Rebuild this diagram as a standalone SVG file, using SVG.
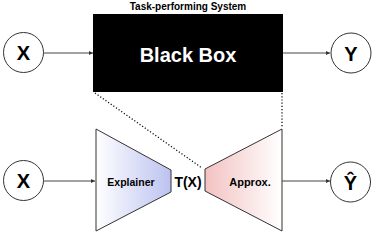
<svg xmlns="http://www.w3.org/2000/svg" width="374" height="234" viewBox="0 0 374 234">
<defs>
<linearGradient id="gBlue" x1="0" y1="0" x2="1" y2="0">
<stop offset="0" stop-color="#ffffff"/>
<stop offset="1" stop-color="#bcc2f0"/>
</linearGradient>
<linearGradient id="gRed" x1="0" y1="0" x2="1" y2="0">
<stop offset="0" stop-color="#f3c2c2"/>
<stop offset="1" stop-color="#ffffff"/>
</linearGradient>
<marker id="ah" viewBox="0 0 6 6" refX="6" refY="3" markerWidth="4" markerHeight="4" orient="auto" markerUnits="userSpaceOnUse">
<path d="M0,0 L6,3 L0,6 z" fill="#333"/>
</marker>
</defs>
<style>
text{font-family:"Liberation Sans",Arial,sans-serif;font-weight:bold;text-anchor:middle;fill:#000}
.circ{fill:#fff;stroke:#333;stroke-width:1}
.trap{stroke:#333;stroke-width:1}
.arrow{stroke:#444;stroke-width:1;fill:none;marker-end:url(#ah)}
.dot{stroke:#111;stroke-width:1.3;stroke-dasharray:1.2 2;fill:none}
.var{font-size:20px}
</style>
<rect width="374" height="234" fill="#fff"/>
<g id="connectors">
<line class="arrow" x1="44" y1="53" x2="93" y2="53"/>
<line class="arrow" x1="283" y1="53" x2="330" y2="53"/>
<line class="arrow" x1="44" y1="181" x2="95" y2="181"/>
<line class="arrow" x1="282" y1="181" x2="330" y2="181"/>
<line class="dot" x1="95" y1="93" x2="202" y2="168"/>
<line class="dot" x1="282" y1="93" x2="282" y2="128"/>
</g>
<g id="title">
<text x="188" y="10" font-size="10">Task-performing System</text>
</g>
<g id="blackbox">
<rect x="93" y="14" width="190" height="78" fill="#000"/>
<text x="188" y="62" font-size="20" style="fill:#fff">Black Box</text>
</g>
<g id="x-top">
<circle class="circ" cx="23.5" cy="52.5" r="20"/>
<text class="var" x="23.5" y="60">X</text>
</g>
<g id="y-top">
<circle class="circ" cx="351" cy="53" r="20"/>
<text class="var" x="351" y="60.5">Y</text>
</g>
<g id="x-bottom">
<circle class="circ" cx="23.5" cy="180.5" r="20"/>
<text class="var" x="23.5" y="188">X</text>
</g>
<g id="explainer">
<polygon class="trap" points="96,129 171,170 171,192 96,231" fill="url(#gBlue)"/>
<text x="131" y="186" font-size="10.5">Explainer</text>
</g>
<g id="tx">
<text x="188" y="186.5" font-size="14">T(X)</text>
</g>
<g id="approx">
<polygon class="trap" points="205,169 282,129 282,231 205,191" fill="url(#gRed)"/>
<text x="250" y="186" font-size="11">Approx.</text>
</g>
<g id="yhat">
<circle class="circ" cx="350.5" cy="182" r="20"/>
<text class="var" x="350.5" y="190">Ŷ</text>
</g>
</svg>
